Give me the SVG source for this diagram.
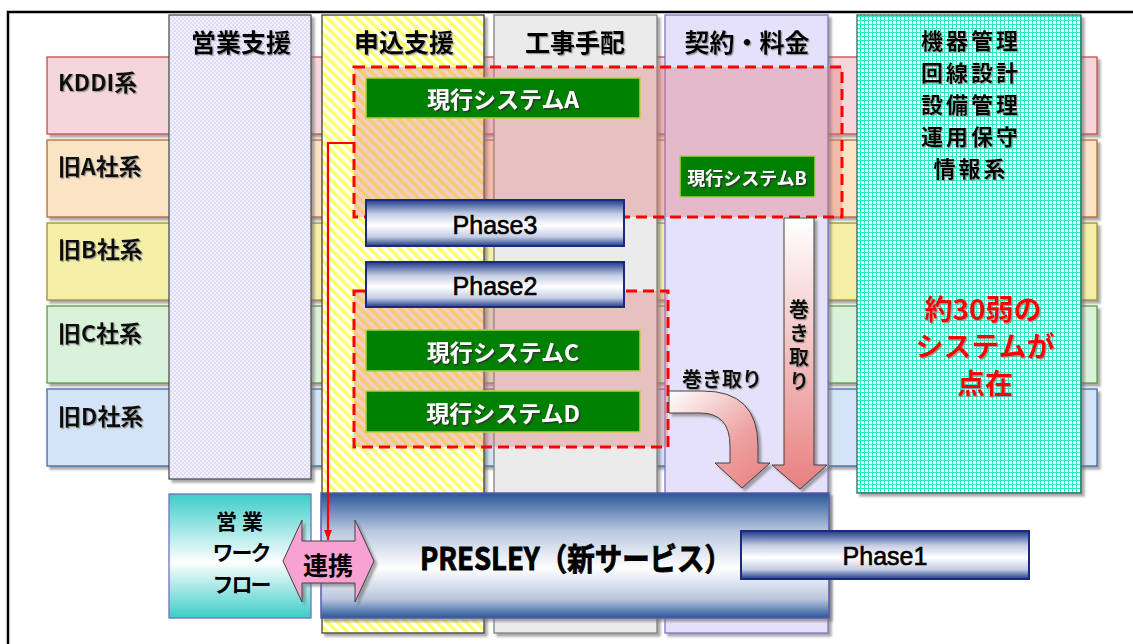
<svg xmlns="http://www.w3.org/2000/svg" width="1133" height="644" viewBox="0 0 1133 644">
<defs>
<style>
.jp{font-family:"Noto Sans CJK JP","Noto Sans CJK SC",sans-serif;font-weight:700;dominant-baseline:central}
.hd{font-size:25px;fill:#000;text-anchor:middle;filter:url(#ts)}
.rt{font-size:23px;fill:#111;filter:url(#ts)}
.ph{font-family:"Liberation Sans",Arial,sans-serif;font-size:25px;fill:#000;stroke:#000;stroke-width:0.6;text-anchor:middle;dominant-baseline:central}
.gr{fill:#008000;stroke:#b8d040;stroke-width:1.5}
.gt{fill:#fff;text-anchor:middle;filter:url(#tsd)}
.dash{fill:#e07878;fill-opacity:0.37;stroke:#ff0000;stroke-width:3;stroke-dasharray:11 6}
.phase{fill:url(#gPh);stroke:#1a2a80;stroke-width:2}
.blk{stroke:#404040;stroke-width:1}
.row{stroke-width:1.3;filter:url(#ds)}
.col{stroke-width:1.3;filter:url(#ds)}
</style>
<filter id="ds" x="-5%" y="-5%" width="115%" height="115%"><feDropShadow dx="3" dy="3" stdDeviation="1" flood-color="#707070" flood-opacity="0.6"/></filter>
<filter id="ts" x="-10%" y="-20%" width="130%" height="150%"><feDropShadow dx="1.2" dy="1.2" stdDeviation="0.7" flood-color="#888" flood-opacity="0.8"/></filter>
<filter id="tsd" x="-10%" y="-20%" width="130%" height="150%"><feDropShadow dx="1.5" dy="1.5" stdDeviation="0.5" flood-color="#303030" flood-opacity="0.9"/></filter>
<pattern id="pDots" width="4" height="4" patternUnits="userSpaceOnUse"><rect width="4" height="4" fill="#f3f3ff"/><circle cx="1" cy="1" r="0.6" fill="#8c8cf0"/><circle cx="3" cy="3" r="0.6" fill="#8c8cf0"/></pattern>
<pattern id="pStripe" width="7" height="7" patternUnits="userSpaceOnUse" patternTransform="rotate(-45)"><rect width="7" height="7" fill="#fff"/><rect width="3.5" height="7" fill="#ffff66"/></pattern>
<pattern id="pGrid" width="4" height="4" patternUnits="userSpaceOnUse"><rect width="4" height="4" fill="#2ee8c4"/><rect x="1" y="1" width="3" height="3" fill="#fff"/></pattern>
<linearGradient id="gPh" x1="0" y1="0" x2="0" y2="1"><stop offset="0" stop-color="#1e3a8a"/><stop offset="0.3" stop-color="#c4cde3"/><stop offset="0.55" stop-color="#fff"/><stop offset="0.8" stop-color="#c4cde3"/><stop offset="1" stop-color="#1e3a8a"/></linearGradient>
<linearGradient id="gPr" x1="0" y1="0" x2="0" y2="1"><stop offset="0" stop-color="#285797"/><stop offset="0.3" stop-color="#b8c6de"/><stop offset="0.6" stop-color="#fff"/><stop offset="0.85" stop-color="#b8c6de"/><stop offset="1" stop-color="#285797"/></linearGradient>
<linearGradient id="gWf" x1="0" y1="0" x2="0" y2="1"><stop offset="0" stop-color="#3ccdc8"/><stop offset="0.55" stop-color="#fff"/><stop offset="1" stop-color="#3ccdc8"/></linearGradient>
<linearGradient id="gArV" x1="0" y1="0" x2="0" y2="1"><stop offset="0" stop-color="#fff"/><stop offset="1" stop-color="#e88080"/></linearGradient>
<linearGradient id="gArC" x1="0" y1="0" x2="1" y2="1"><stop offset="0" stop-color="#fff"/><stop offset="0.6" stop-color="#eda0a0"/><stop offset="1" stop-color="#e88080"/></linearGradient>
<marker id="arR" markerWidth="10" markerHeight="10" refX="10" refY="5" orient="auto" markerUnits="userSpaceOnUse"><path d="M0,1 L10,5 L0,9 Z" fill="#ff0000"/></marker>
</defs>
<rect width="1133" height="644" fill="#fff"/>
<path d="M8,644 V12 H1133" fill="none" stroke="#000" stroke-width="2.5"/>

<g id="row-kddi"><rect class="row" x="47" y="57" width="1050" height="77" fill="#f5d6da" stroke="#c0504d"/><text class="jp rt" x="58" y="81">KDDI系</text></g>
<g id="row-a"><rect class="row" x="47" y="140" width="1050" height="77" fill="#fbe4c4" stroke="#b06a30"/><text class="jp rt" x="58" y="165">旧A社系</text></g>
<g id="row-b"><rect class="row" x="47" y="223" width="1050" height="77" fill="#f5f0a6" stroke="#9a9030"/><text class="jp rt" x="58" y="248">旧B社系</text></g>
<g id="row-c"><rect class="row" x="47" y="306" width="1050" height="77" fill="#daf2da" stroke="#5a9a40"/><text class="jp rt" x="58" y="332">旧C社系</text></g>
<g id="row-d"><rect class="row" x="47" y="389" width="1050" height="77" fill="#d2e4f6" stroke="#3a6aa8"/><text class="jp rt" x="58" y="415">旧D社系</text></g>

<g id="col-eigyo"><rect class="col" x="169" y="15" width="142" height="464" fill="url(#pDots)" stroke="#505050"/><text class="jp hd" x="241" y="41">営業支援</text></g>
<g id="col-moushikomi"><rect class="col" x="322" y="15" width="162" height="618" fill="url(#pStripe)" stroke="#404040"/><text class="jp hd" x="404" y="41">申込支援</text></g>
<g id="col-kouji"><rect class="col" x="494" y="15" width="163" height="618" fill="#ebebeb" stroke="#808080"/><text class="jp hd" x="575" y="41">工事手配</text></g>
<g id="col-keiyaku"><rect class="col" x="665" y="15" width="163" height="618" fill="#e6e1fb" stroke="#7c74c4"/><text class="jp hd" x="747" y="41">契約・料金</text></g>
<g id="col-kiki"><rect class="col" x="857" y="15" width="224" height="478" fill="url(#pGrid)" stroke="#2a6a5a"/>
<text class="jp hd" style="font-size:22px" letter-spacing="3"><tspan x="971" y="39">機器管理</tspan><tspan x="971" y="71">回線設計</tspan><tspan x="971" y="103">設備管理</tspan><tspan x="971" y="135">運用保守</tspan><tspan x="971" y="167">情報系</tspan></text>
<text class="jp" font-size="28" fill="#ff0000" text-anchor="middle" filter="url(#ts)"><tspan x="983" y="308">約30弱の</tspan><tspan x="985" y="345">システムが</tspan><tspan x="985" y="382">点在</tspan></text>
</g>

<g id="group-dash1"><rect class="dash" x="354" y="67" width="488" height="150"/></g>
<g id="group-dash2"><rect class="dash" x="354" y="291" width="314" height="156"/></g>

<g id="sys-a"><rect class="gr" x="366" y="78" width="274" height="40"/><text class="jp gt" x="503" y="98" font-size="23">現行システムA</text></g>
<g id="sys-b"><rect class="gr" x="680" y="156" width="135" height="41"/><text class="jp gt" x="747" y="177" font-size="18">現行システムB</text></g>
<g id="sys-c"><rect class="gr" x="366" y="330" width="274" height="41"/><text class="jp gt" x="503" y="351" font-size="23">現行システムC</text></g>
<g id="sys-d"><rect class="gr" x="366" y="391" width="274" height="41"/><text class="jp gt" x="503" y="412" font-size="23">現行システムD</text></g>

<g id="phase3"><rect class="phase" x="366" y="200" width="258" height="46"/><text class="ph" x="495" y="225">Phase3</text></g>
<g id="phase2"><rect class="phase" x="366" y="262" width="258" height="45"/><text class="ph" x="495" y="286">Phase2</text></g>

<g id="workflow"><rect x="169" y="494" width="142" height="124" fill="url(#gWf)" stroke="#7070c0" stroke-width="1.3"/>
<text class="jp" text-anchor="middle" fill="#000" font-size="21"><tspan x="242" y="520" letter-spacing="5">営業</tspan><tspan x="241" y="551" letter-spacing="-2">ワーク</tspan><tspan x="241" y="583" letter-spacing="-2">フロー</tspan></text></g>

<g id="presley"><rect x="321" y="493" width="508" height="125" fill="url(#gPr)" stroke="#5a5aa8" stroke-width="1.5" filter="url(#ds)"/>
<text class="jp" x="420" y="556" font-size="31" textLength="312" lengthAdjust="spacingAndGlyphs" fill="#000" stroke="#000" stroke-width="0.9">PRESLEY（新サービス）</text></g>

<g id="phase1"><rect class="phase" x="741" y="531" width="288" height="48"/><text class="ph" x="885" y="556">Phase1</text></g>

<g id="connectors">
<path id="link-red" d="M354,143 H328 V540" fill="none" stroke="#ff0000" stroke-width="2.2" marker-end="url(#arR)"/>
<g id="arrow-v"><path class="blk" d="M784,218 H814 V465 H827 L800,489 L772,465 H784 Z" fill="url(#gArV)" filter="url(#ds)"/>
<text class="jp" x="799" y="299" font-size="20" fill="#111" writing-mode="tb" letter-spacing="4" filter="url(#ts)">巻き取り</text></g>
<g id="arrow-c"><path class="blk" d="M669,391 H703 Q758,391 758,446 V463 H770 L742,488 L715,463 H730 V446 Q730,413 700,413 H669 Z" fill="url(#gArC)" filter="url(#ds)"/>
<text class="jp" x="722" y="378" font-size="20" fill="#111" text-anchor="middle" filter="url(#ts)">巻き取り</text></g>
<g id="arrow-renkei"><path class="blk" d="M283,561 L302,520 V541 H355 V520 L374,561 L355,602 V583 H302 V602 Z" fill="#f7a2d2" filter="url(#ds)"/>
<text class="jp" x="328" y="564" font-size="25" text-anchor="middle" fill="#000">連携</text></g>
</g>
</svg>
